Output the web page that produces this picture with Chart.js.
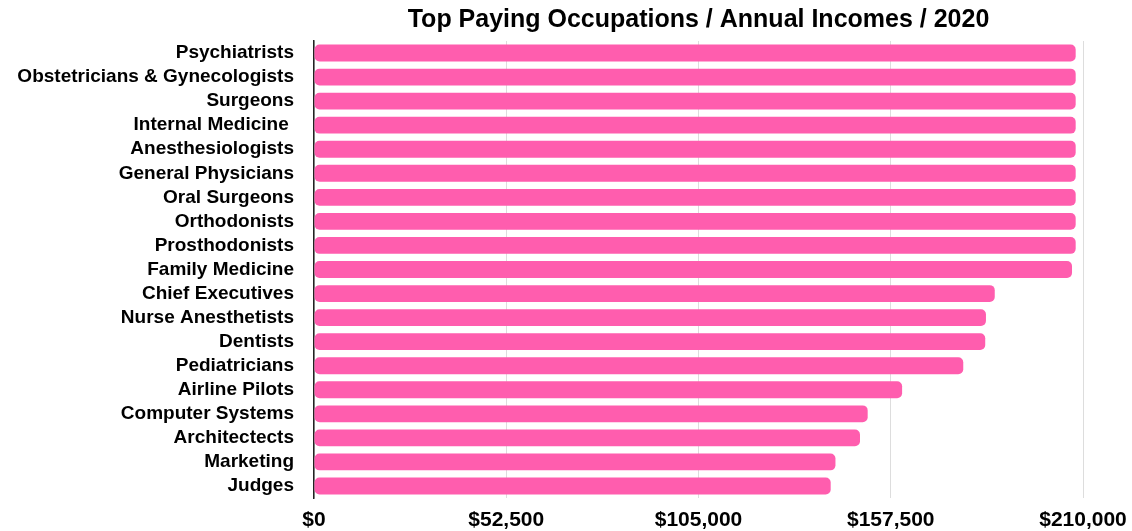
<!DOCTYPE html>
<html>
<head>
<meta charset="utf-8">
<title>Top Paying Occupations</title>
<script src="https://cdn.jsdelivr.net/npm/chart.js"></script>
<style>
  html, body { margin: 0; padding: 0; background: #fff; }
  #incomeChart { display: block; }
</style>
</head>
<body>
<canvas id="incomeChart" width="1132" height="531"></canvas>
<script>
(function() {
    'use strict';

    // ─── DATA ───────────────────────────────────────────────
    const chartTitle = 'Top Paying Occupations / Annual Incomes / 2020';

    const occupations = [
        'Psychiatrists', 'Obstetricians & Gynecologists', 'Surgeons', 'Internal Medicine ',
        'Anesthesiologists', 'General Physicians', 'Oral Surgeons', 'Orthodonists',
        'Prosthodonists', 'Family Medicine', 'Chief Executives', 'Nurse Anesthetists',
        'Dentists', 'Pediatricians', 'Airline Pilots', 'Computer Systems',
        'Architectects', 'Marketing', 'Judges'
    ];

    const annualIncomes = [
        208000, 208000, 208000, 208000, 208000, 208000, 208000, 208000, 208000,
        207000, 185900, 183500, 183300, 177300, 160600, 151200, 149100, 142400, 141100
    ];

    const xTickValues = [0, 52500, 105000, 157500, 210000];

    const FONT = "'Liberation Sans', Arial, Helvetica, sans-serif";

    // ─── PLUGIN: title centred over the plot area ───────────
    const plotTitle = {
        id: 'plotTitle',
        afterDraw(chart) {
            const { ctx, chartArea } = chart;
            ctx.save();
            ctx.font = 'bold 25px ' + FONT;
            ctx.fillStyle = '#000';
            ctx.textAlign = 'center';
            ctx.textBaseline = 'middle';
            ctx.fillText(chartTitle, (chartArea.left + chartArea.right) / 2, 20);
            ctx.restore();
        }
    };

    const ctx = document.getElementById('incomeChart').getContext('2d');
    new Chart(ctx, {
        type: 'bar',
        data: {
            labels: occupations,
            datasets: [{
                label: 'Annual Income',
                data: annualIncomes,
                backgroundColor: '#ff5dae',
                borderRadius: 5,
                borderSkipped: false,
                barPercentage: 0.7,
                categoryPercentage: 1.0
            }]
        },
        options: {
            indexAxis: 'y',
            responsive: false,
            animation: false,
            layout: { padding: { top: 41, left: 12, right: 49, bottom: 0 } },
            plugins: {
                legend: { display: false },
                title: { display: false },
                tooltip: { enabled: false }
            },
            scales: {
                x: {
                    min: 0,
                    max: 210000,
                    afterBuildTicks: (scale) => { scale.ticks = xTickValues.map(v => ({ value: v })); },
                    afterFit: (scale) => {
                        scale.height = 33;
                        scale.paddingLeft = 0;   // let the end labels hang over
                        scale.paddingRight = 0;
                    },
                    grid: { color: '#dddddd', lineWidth: 1, drawTicks: false },
                    border: { display: false },
                    ticks: {
                        padding: 10,
                        color: '#000',
                        font: { family: FONT, size: 21, weight: 'bold' },
                        callback: (v) => '$' + Number(v).toLocaleString('en-US')
                    }
                },
                y: {
                    afterFit: (scale) => { scale.width = 302; },
                    grid: { display: false, drawTicks: false },
                    border: { display: true, color: '#222', width: 1.5 },
                    ticks: {
                        padding: 20,
                        color: '#000',
                        autoSkip: false,
                        font: { family: FONT, size: 19, weight: 'bold' }
                    }
                }
            }
        },
        plugins: [plotTitle]
    });
})();
</script>
</body>
</html>
